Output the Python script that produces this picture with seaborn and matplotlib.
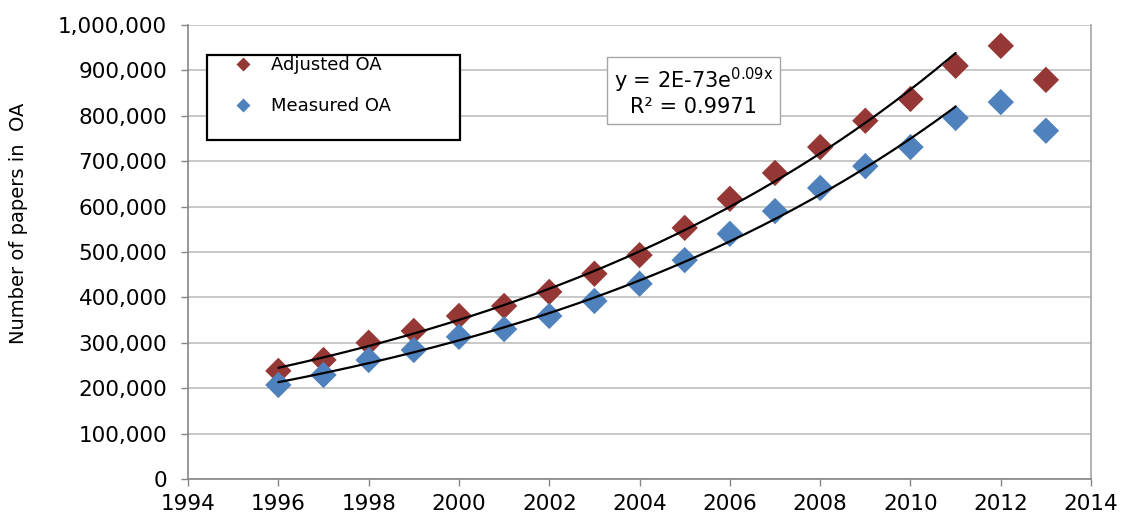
import numpy as np
import pandas as pd
import matplotlib
matplotlib.use("Agg")
import matplotlib.pyplot as plt
import seaborn as sns
from matplotlib.ticker import FuncFormatter, MultipleLocator
from matplotlib.lines import Line2D
from matplotlib.patches import Rectangle

years = [1996, 1997, 1998, 1999, 2000, 2001, 2002, 2003, 2004, 2005,
         2006, 2007, 2008, 2009, 2010, 2011, 2012, 2013]
adjusted_oa = [238000, 262000, 300000, 326000, 359000, 381000, 412000, 452000, 493000,
               553000, 617000, 674000, 731000, 789000, 837000, 910000, 954000, 879000]
measured_oa = [207000, 229000, 262000, 284000, 313000, 330000, 359000, 392000, 430000,
               482000, 540000, 590000, 641000, 689000, 731000, 795000, 830000, 767000]
series_names = ["Adjusted OA", "Measured OA"]
fit_last_year = 2011
equation_text = "y = 2E-73e$^{\\mathrm{0.09x}}$\nR² = 0.9971"
y_label = "Number of papers in  OA"

sns.set_theme(style="white")
plt.rcParams['font.family'] = ['DejaVu Sans']
plt.rcParams['text.color'] = 'black'
plt.rcParams['axes.labelcolor'] = 'black'
plt.rcParams['xtick.color'] = 'black'
plt.rcParams['ytick.color'] = 'black'

df = pd.DataFrame({
    "year": years * 2,
    "value": adjusted_oa + measured_oa,
    "series": [series_names[0]] * len(years) + [series_names[1]] * len(years),
})
palette = {series_names[0]: "#953735", series_names[1]: "#4F81BD"}

fig = plt.figure(figsize=(11.26, 5.2), dpi=100)
ax = fig.add_axes([0.167, 0.079, 0.802, 0.873])

ax.yaxis.grid(True, color="#BFBFBF", linewidth=1.2)
ax.set_axisbelow(True)

sns.scatterplot(data=df, x="year", y="value", hue="series", palette=palette,
                marker="D", s=180, edgecolor="none", ax=ax, legend=False, zorder=3)

# exponential trend lines fitted on 1996-2011
for vals in (adjusted_oa, measured_oa):
    xs = np.array([y for y in years if y <= fit_last_year], dtype=float)
    ys = np.array(vals[:len(xs)], dtype=float)
    b, a = np.polyfit(xs, np.log(ys), 1)
    xx = np.linspace(xs[0], xs[-1], 200)
    ax.plot(xx, np.exp(a + b * xx), color="black", linewidth=1.6, zorder=4)

ax.set_xlim(1994, 2014)
ax.set_ylim(0, 1000000)
ax.xaxis.set_major_locator(MultipleLocator(2))
ax.yaxis.set_major_locator(MultipleLocator(100000))
ax.yaxis.set_major_formatter(FuncFormatter(lambda v, p: f"{int(v):,}"))
ax.tick_params(axis="both", which="major", labelsize=15.5, length=5, width=1,
               direction="out")
ax.tick_params(axis="both", which="major", color="#868686")
ax.tick_params(axis="y", pad=10)
ax.tick_params(axis="x", pad=6)
ax.tick_params(left=True, bottom=True)
for side in ("left", "bottom"):
    ax.spines[side].set_color("#868686")
    ax.spines[side].set_linewidth(1.2)
ax.spines["right"].set_color("#A6A6A6")
ax.spines["right"].set_linewidth(1.2)
ax.spines["top"].set_visible(False)
ax.set_xlabel("")
ax.set_ylabel(y_label, fontsize=14)
ax.yaxis.set_label_coords(-0.177, 0.564)

# legend box
ax.add_patch(Rectangle((0.021, 0.747), 0.28, 0.187, transform=ax.transAxes,
                       facecolor="white", edgecolor="black", linewidth=1.6,
                       zorder=5, clip_on=False))
handles = [Line2D([], [], marker="D", linestyle="none", markersize=7.5,
                  markerfacecolor=palette[n], markeredgecolor="none") for n in series_names]
leg = ax.legend(handles, series_names, loc="upper left", bbox_to_anchor=(0.046, 0.932),
                frameon=False, fontsize=13, labelspacing=1.3,
                handletextpad=0.8, borderpad=0, borderaxespad=0, handlelength=1.5)
leg.set_zorder(6)

ax.text(0.560, 0.853, equation_text, transform=ax.transAxes, ha="center", va="center",
        fontsize=15, linespacing=1.1, zorder=6,
        bbox=dict(boxstyle="square,pad=0.33", facecolor="white", edgecolor="#A6A6A6", linewidth=1))

fig.savefig("out.png", dpi=100)
